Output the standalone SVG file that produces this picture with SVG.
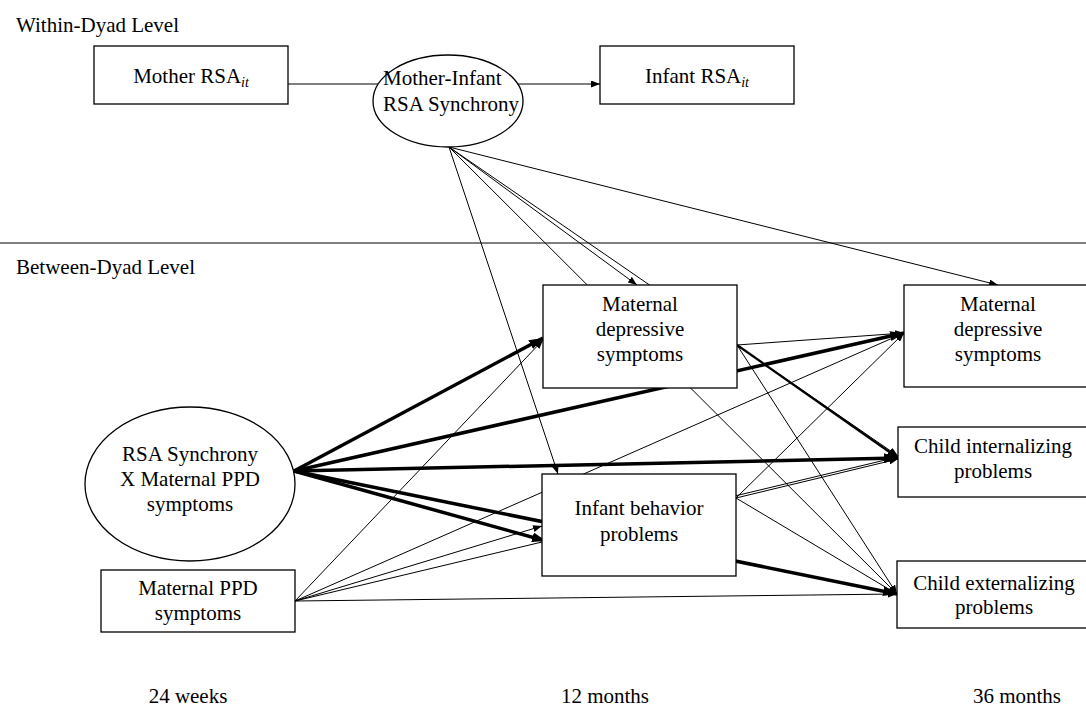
<svg xmlns="http://www.w3.org/2000/svg" width="1086" height="707" viewBox="0 0 1086 707">
<style>
text{font-family:"Liberation Serif","Times New Roman",serif;font-size:21px;fill:#000}
.mid{text-anchor:middle}
.sub{font-style:italic;font-size:14px}
.n rect,.n ellipse{fill:#fff;stroke:#000;stroke-width:1.3}
.c line{stroke:#000;stroke-width:1;fill:none}
.c .a{marker-end:url(#ah)}
.c .t{stroke-width:3.5;marker-end:url(#ahb)}
.c .m{stroke-width:2.2;marker-end:url(#ahm)}
.div{stroke:#000;stroke-width:1}
</style>
<defs>
<marker id="ah" viewBox="0 0 10 10" refX="10" refY="5" markerUnits="userSpaceOnUse" markerWidth="9" markerHeight="7" orient="auto" preserveAspectRatio="none"><path d="M0,0L10,5L0,10z" fill="#000"/></marker>
<marker id="ahm" viewBox="0 0 10 10" refX="10" refY="5" markerUnits="userSpaceOnUse" markerWidth="11" markerHeight="8" orient="auto" preserveAspectRatio="none"><path d="M0,0L10,5L0,10z" fill="#000"/></marker>
<marker id="ahb" viewBox="0 0 10 10" refX="10" refY="5" markerUnits="userSpaceOnUse" markerWidth="14" markerHeight="10" orient="auto" preserveAspectRatio="none"><path d="M0,0L10,5L0,10z" fill="#000"/></marker>
</defs>
<rect width="1086" height="707" fill="#fff"/>
<text x="16" y="32">Within-Dyad Level</text>
<line class="div" x1="0" y1="243" x2="1086" y2="243"/>
<text x="16" y="274">Between-Dyad Level</text>
<text class="mid" x="188" y="703">24 weeks</text>
<text class="mid" x="605" y="703">12 months</text>
<text class="mid" x="1017" y="703">36 months</text>
<g class="c" id="connectors">
<line x1="288" y1="84" x2="448" y2="84"/>
<line class="a" x1="448" y1="84" x2="600" y2="84"/>
<line class="a" x1="449" y1="147" x2="637" y2="285"/>
<line class="a" x1="449" y1="147" x2="558" y2="474"/>
<line class="a" x1="449" y1="147" x2="998" y2="285"/>
<line class="a" x1="449" y1="147" x2="898" y2="456"/>
<line class="a" x1="449" y1="147" x2="897" y2="594"/>
<line class="t" x1="294" y1="471" x2="543" y2="338"/>
<line class="t" x1="294" y1="471" x2="904" y2="333"/>
<line class="t" x1="294" y1="471" x2="898" y2="458"/>
<line class="t" x1="294" y1="471" x2="546" y2="541"/>
<line class="t" x1="294" y1="471" x2="897" y2="594"/>
<line class="a" x1="295" y1="601" x2="543" y2="340"/>
<line class="a" x1="295" y1="601" x2="542" y2="526"/>
<line class="a" x1="295" y1="601" x2="904" y2="333"/>
<line class="a" x1="295" y1="601" x2="898" y2="457"/>
<line class="a" x1="295" y1="601" x2="897" y2="594"/>
<line class="a" x1="737" y1="345" x2="904" y2="333"/>
<line class="m" x1="737" y1="345" x2="898" y2="458"/>
<line class="a" x1="737" y1="345" x2="897" y2="594"/>
<line class="a" x1="736" y1="498" x2="904" y2="333"/>
<line class="a" x1="736" y1="498" x2="898" y2="459"/>
<line class="a" x1="736" y1="498" x2="897" y2="594"/>
</g>
<g class="n" id="mother-rsa">
<rect x="94" y="46" width="194" height="58"/>
<text class="mid" x="191" y="83">Mother RSA<tspan class="sub" dy="4">it</tspan></text>
</g>
<g class="n" id="infant-rsa">
<rect x="600" y="46" width="194" height="58"/>
<text class="mid" x="697" y="83">Infant RSA<tspan class="sub" dy="4">it</tspan></text>
</g>
<g class="n" id="synchrony">
<ellipse cx="448" cy="101" rx="75" ry="46"/>
<text x="383" y="85">Mother-Infant</text>
<text x="383" y="111">RSA Synchrony</text>
</g>
<g class="n" id="interaction">
<ellipse cx="190" cy="484" rx="105" ry="77"/>
<text class="mid" x="190" y="461">RSA Synchrony</text>
<text class="mid" x="190" y="486">X Maternal PPD</text>
<text class="mid" x="190" y="511">symptoms</text>
</g>
<g class="n" id="ppd">
<rect x="101" y="570" width="194" height="62"/>
<text class="mid" x="198" y="595">Maternal PPD</text>
<text class="mid" x="198" y="620">symptoms</text>
</g>
<g class="n" id="mdep12">
<rect x="543" y="285" width="194" height="103"/>
<text class="mid" x="640" y="311">Maternal</text>
<text class="mid" x="640" y="336">depressive</text>
<text class="mid" x="640" y="361">symptoms</text>
</g>
<g class="n" id="infant-behavior">
<rect x="542" y="474" width="194" height="102"/>
<text class="mid" x="639" y="515">Infant behavior</text>
<text class="mid" x="639" y="541">problems</text>
</g>
<g class="n" id="mdep36">
<rect x="904" y="285" width="190" height="102"/>
<text class="mid" x="998" y="311">Maternal</text>
<text class="mid" x="998" y="336">depressive</text>
<text class="mid" x="998" y="361">symptoms</text>
</g>
<g class="n" id="internalizing">
<rect x="898" y="427" width="196" height="70"/>
<text class="mid" x="993" y="453">Child internalizing</text>
<text class="mid" x="993" y="478">problems</text>
</g>
<g class="n" id="externalizing">
<rect x="897" y="561" width="197" height="67"/>
<text class="mid" x="994" y="590">Child externalizing</text>
<text class="mid" x="994" y="614">problems</text>
</g>
</svg>
